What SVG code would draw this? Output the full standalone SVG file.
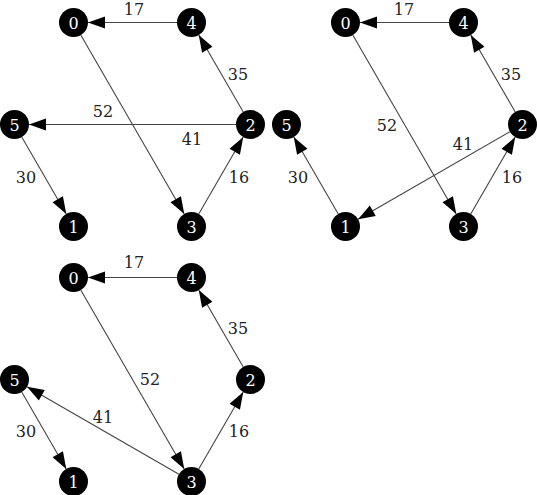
<svg xmlns="http://www.w3.org/2000/svg" width="537" height="495" viewBox="0 0 537 495">
<defs>
<style>
.n circle{fill:#000;}
.n text{fill:#fff;font-family:"DejaVu Serif","Liberation Serif",serif;font-size:16px;text-anchor:middle;}
.e line{stroke:#444;stroke-width:1.1;fill:none;marker-end:url(#ah);}
.lbl{font-family:"DejaVu Serif","Liberation Serif",serif;font-size:16px;fill:#222;text-anchor:middle;}
</style>
<marker id="ah" markerUnits="userSpaceOnUse" markerWidth="18" markerHeight="13" refX="17" refY="6" orient="auto" overflow="visible">
<path d="M0,0 L17,6 L0,12 z" fill="#000"/>
</marker>
</defs>

<!-- Panel 1 -->
<g id="panel1">
<g id="p1-edges" class="e">
<line x1="177" y1="22.5" x2="88" y2="22.5"/>
<line x1="243.25" y1="111.97" x2="198.75" y2="35.03"/>
<line x1="198.75" y1="213.97" x2="243.25" y2="137.03"/>
<line x1="21.75" y1="137.03" x2="66.25" y2="213.97"/>
<line x1="236" y1="124.5" x2="29" y2="124.5"/>
<line x1="80.76" y1="35.05" x2="184.24" y2="213.95"/>
</g>
<g id="p1-labels">
<text class="lbl" x="134" y="15">17</text>
<text class="lbl" x="238" y="80">35</text>
<text class="lbl" x="103" y="117">52</text>
<text class="lbl" x="192" y="145">41</text>
<text class="lbl" x="26" y="183">30</text>
<text class="lbl" x="239" y="183">16</text>
</g>
<g id="p1-n0" class="n"><circle cx="73.5" cy="22.5" r="14.5"/><text x="73.5" y="28.5">0</text></g>
<g id="p1-n4" class="n"><circle cx="191.5" cy="22.5" r="14.5"/><text x="191.5" y="28.5">4</text></g>
<g id="p1-n2" class="n"><circle cx="250.5" cy="124.5" r="14.5"/><text x="250.5" y="130.5">2</text></g>
<g id="p1-n3" class="n"><circle cx="191.5" cy="226.5" r="14.5"/><text x="191.5" y="232.5">3</text></g>
<g id="p1-n1" class="n"><circle cx="73.5" cy="226.5" r="14.5"/><text x="73.5" y="232.5">1</text></g>
<g id="p1-n5" class="n"><circle cx="14.5" cy="124.5" r="14.5"/><text x="14.5" y="130.5">5</text></g>
</g>

<!-- Panel 2 -->
<g id="panel2" transform="translate(272,0)">
<g id="p2-edges" class="e">
<line x1="177" y1="22.5" x2="88" y2="22.5"/>
<line x1="243.25" y1="111.97" x2="198.75" y2="35.03"/>
<line x1="198.75" y1="213.97" x2="243.25" y2="137.03"/>
<line x1="66.25" y1="213.97" x2="21.75" y2="137.03"/>
<line x1="237.94" y1="131.74" x2="86.06" y2="219.26"/>
<line x1="80.76" y1="35.05" x2="184.24" y2="213.95"/>
</g>
<g id="p2-labels">
<text class="lbl" x="132" y="15">17</text>
<text class="lbl" x="239" y="80">35</text>
<text class="lbl" x="115" y="131">52</text>
<text class="lbl" x="191" y="150">41</text>
<text class="lbl" x="26" y="183">30</text>
<text class="lbl" x="240" y="183">16</text>
</g>
<g id="p2-n0" class="n"><circle cx="73.5" cy="22.5" r="14.5"/><text x="73.5" y="28.5">0</text></g>
<g id="p2-n4" class="n"><circle cx="191.5" cy="22.5" r="14.5"/><text x="191.5" y="28.5">4</text></g>
<g id="p2-n2" class="n"><circle cx="250.5" cy="124.5" r="14.5"/><text x="250.5" y="130.5">2</text></g>
<g id="p2-n3" class="n"><circle cx="191.5" cy="226.5" r="14.5"/><text x="191.5" y="232.5">3</text></g>
<g id="p2-n1" class="n"><circle cx="73.5" cy="226.5" r="14.5"/><text x="73.5" y="232.5">1</text></g>
<g id="p2-n5" class="n"><circle cx="14.5" cy="124.5" r="14.5"/><text x="14.5" y="130.5">5</text></g>
</g>

<!-- Panel 3 -->
<g id="panel3" transform="translate(0,255)">
<g id="p3-edges" class="e">
<line x1="177" y1="22.5" x2="88" y2="22.5"/>
<line x1="243.25" y1="111.97" x2="198.75" y2="35.03"/>
<line x1="198.75" y1="213.97" x2="243.25" y2="137.03"/>
<line x1="21.75" y1="137.03" x2="66.25" y2="213.97"/>
<line x1="178.94" y1="219.26" x2="27.06" y2="131.74"/>
<line x1="80.76" y1="35.05" x2="184.24" y2="213.95"/>
</g>
<g id="p3-labels">
<text class="lbl" x="134" y="13">17</text>
<text class="lbl" x="238" y="79">35</text>
<text class="lbl" x="150" y="130">52</text>
<text class="lbl" x="103" y="168">41</text>
<text class="lbl" x="26" y="182">30</text>
<text class="lbl" x="239" y="182">16</text>
</g>
<g id="p3-n0" class="n"><circle cx="73.5" cy="22.5" r="14.5"/><text x="73.5" y="28.5">0</text></g>
<g id="p3-n4" class="n"><circle cx="191.5" cy="22.5" r="14.5"/><text x="191.5" y="28.5">4</text></g>
<g id="p3-n2" class="n"><circle cx="250.5" cy="124.5" r="14.5"/><text x="250.5" y="130.5">2</text></g>
<g id="p3-n3" class="n"><circle cx="191.5" cy="226.5" r="14.5"/><text x="191.5" y="232.5">3</text></g>
<g id="p3-n1" class="n"><circle cx="73.5" cy="226.5" r="14.5"/><text x="73.5" y="232.5">1</text></g>
<g id="p3-n5" class="n"><circle cx="14.5" cy="124.5" r="14.5"/><text x="14.5" y="130.5">5</text></g>
</g>
</svg>
